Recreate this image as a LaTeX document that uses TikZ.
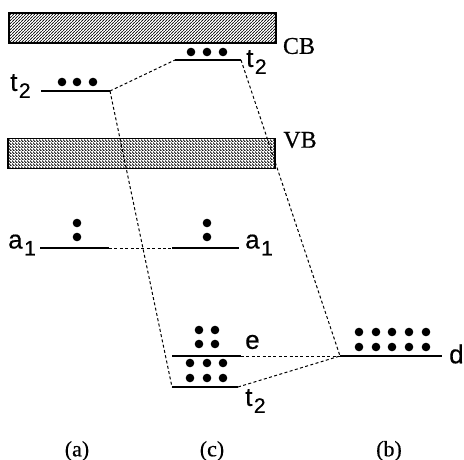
\documentclass[tikz,border=0pt]{standalone}
\usepackage{fontspec}
\setmainfont{Liberation Serif}[FakeBold=0.5]
\newfontfamily\hvfont{Liberation Sans}[FakeBold=0.5]
\usetikzlibrary{patterns}
\pgfdeclarepatternformonly{bandne}{\pgfpointorigin}{\pgfqpoint{3pt}{3pt}}{\pgfqpoint{3pt}{3pt}}{
  \pgfsetlinewidth{0.9pt}
  \pgfpathmoveto{\pgfqpoint{-0.5pt}{-0.5pt}}
  \pgfpathlineto{\pgfqpoint{3.5pt}{3.5pt}}
  \pgfusepath{stroke}}
\pgfdeclarepatternformonly{bandnw}{\pgfpointorigin}{\pgfqpoint{3pt}{3pt}}{\pgfqpoint{3pt}{3pt}}{
  \pgfsetlinewidth{1pt}
  \pgfpathmoveto{\pgfqpoint{-0.5pt}{3.5pt}}
  \pgfpathlineto{\pgfqpoint{3.5pt}{-0.5pt}}
  \pgfusepath{stroke}}
\newcommand\lvlab[2]{{\hvfont\fontsize{26}{26}\selectfont #1\kern1.5pt\raisebox{-7pt}{\fontsize{21}{21}\selectfont #2}}}
\tikzset{
  band/.style={draw, line width=1.3pt, minimum width=267pt, minimum height=30pt, inner sep=0pt},
  level/.style={line width=2pt},
  conn/.style={line width=1pt, dash pattern=on 3pt off 2.4pt},
  elec/.style={fill=black},
  lab/.style={inner sep=0pt, font=\fontsize{26}{26}\selectfont},
  bandlab/.style={inner sep=0pt, font=\fontsize{24}{24}\selectfont},
  collab/.style={inner sep=0pt, font=\fontsize{22}{22}\selectfont}
}
\begin{document}
\begin{tikzpicture}[x=1pt,y=-1pt]
\useasboundingbox (0,0) rectangle (464,460);
% bands
\node[band, pattern=bandne] (CB) at (142.5,28) {};
\node[band, pattern=bandnw] (VB) at (141.5,153.5) {};
\node[bandlab] (CBl) at (299,46) {CB};
\node[bandlab] (VBl) at (300,140) {VB};
% levels
\draw[level] (41,91) coordinate (at2L) -- (110,91) coordinate (at2R);
\draw[level] (175,60) coordinate (ct2uL) -- (241,60) coordinate (ct2uR);
\draw[level] (40,248) coordinate (aa1L) -- (109,248) coordinate (aa1R);
\draw[level] (172,248) coordinate (ca1L) -- (239,248) coordinate (ca1R);
\draw[level] (172,356) coordinate (ceL) -- (241,356) coordinate (ceR);
\draw[level] (172,387) coordinate (ct2dL) -- (238,387) coordinate (ct2dR);
\draw[level] (340,356) coordinate (bdL) -- (442,356) coordinate (bdR);
% connectors
\draw[conn] (at2R) -- (ct2uL);
\draw[conn] (at2R) -- (ct2dL);
\draw[conn] (ct2uR) -- (bdL);
\draw[conn] (aa1R) -- (ca1L);
\draw[conn] (ceR) -- (bdL);
\draw[conn] (ct2dR) -- (bdL);
% electrons
\foreach \x in {62,77,93} \fill[elec] (\x,82) circle (4.3);
\foreach \x in {191,207,223} \fill[elec] (\x,52) circle (4.3);
\foreach \y in {223,237} {\fill[elec] (77,\y) circle (4.3); \fill[elec] (207,\y) circle (4.3);}
\foreach \x in {199,215} \foreach \y in {330,344} \fill[elec] (\x,\y) circle (4.3);
\foreach \x in {190,207,223} \foreach \y in {363,378} \fill[elec] (\x,\y) circle (4.3);
\foreach \x in {359,376,392,409,426} \foreach \y in {332,347} \fill[elec] (\x,\y) circle (4.3);
% level labels
\node[lab, anchor=west] (lat2) at (10,86) {\lvlab{t}{2}};
\node[lab, anchor=west] (lct2u) at (246,62) {\lvlab{t}{2}};
\node[lab, anchor=west] (laa1) at (8,245) {\lvlab{a}{1}};
\node[lab, anchor=west] (lca1) at (245,245) {\lvlab{a}{1}};
\node[lab, anchor=west] (lce) at (245,342) {{\hvfont e}};
\node[lab, anchor=west] (lbd) at (449,354) {{\hvfont d}};
\node[lab, anchor=west] (lct2d) at (245,401) {\lvlab{t}{2}};
% column labels
\node[collab] (cola) at (77,451) {(a)};
\node[collab] (colc) at (212,451) {(c)};
\node[collab] (colb) at (389,451) {(b)};
\end{tikzpicture}
\end{document}
